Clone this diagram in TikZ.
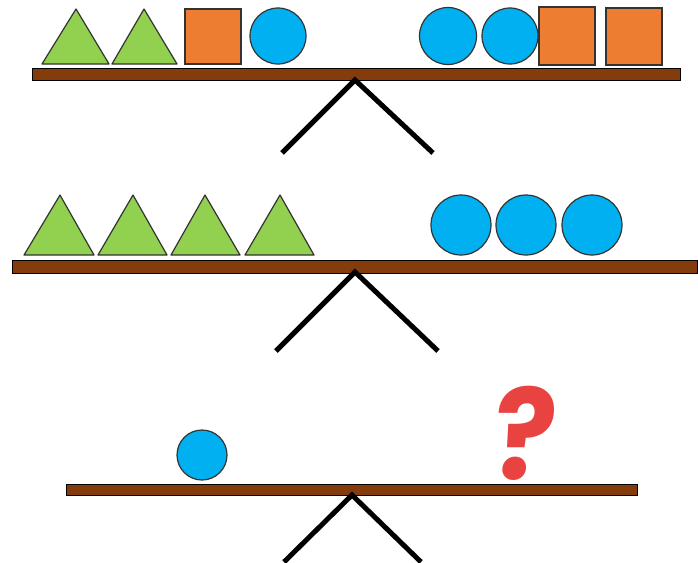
\documentclass[tikz,border=0pt]{standalone}
\usepackage{fontspec}
\newfontfamily\qfont{Poppins}
\definecolor{grn}{HTML}{92D050}
\definecolor{org}{HTML}{ED7D31}
\definecolor{blu}{HTML}{00B0F0}
\definecolor{brn}{HTML}{843C0C}
\definecolor{qred}{HTML}{E84340}
\definecolor{edge}{HTML}{333333}

\begin{document}
\begin{tikzpicture}[x=1pt,y=-1pt,
  tri/.style={fill=grn,draw=edge,line width=1.2pt,line join=round},
  sq/.style={fill=org,draw=edge,line width=1.2pt},
  ball/.style={fill=blu,draw=edge,line width=1.2pt},
  plank/.style={fill=brn,draw=black,line width=1pt},
  leg/.style={line width=5pt,line join=miter}]
\useasboundingbox (0,0) rectangle (698,562);

% top seesaw
\draw [plank](32,68) rectangle (680,80);
\draw [leg](282,153) -- (355,80) -- (433,153);
\draw [tri](42,64) -- (76,9) -- (109,64) -- cycle;
\draw [tri](112,64) -- (144,9) -- (177,64) -- cycle;
\draw [sq](185,9) rectangle (241,64);
\draw [ball](278,36) circle (28);
\draw [ball](448,36) circle (28.5);
\draw [ball](510,36) circle (28);
\draw [sq](539,7) rectangle (595,65);
\draw [sq](606,8) rectangle (662,65);

% middle seesaw
\draw [plank](12,260) rectangle (697,273);
\draw [leg](276,351) -- (355,272) -- (438,351);
\draw [tri](24,255) -- (60,195) -- (94,255) -- cycle;
\draw [tri](98,255) -- (133,195) -- (167,255) -- cycle;
\draw [tri](171,255) -- (205,195) -- (240,255) -- cycle;
\draw [tri](245,255) -- (280,195) -- (314,255) -- cycle;
\draw [ball](461,225) circle (30);
\draw [ball](526,225) circle (30);
\draw [ball](592,225) circle (30);

% bottom seesaw
\draw [plank](66,484) rectangle (637,495);
\draw [leg](284,562) -- (352,495) -- (421,562);
\draw [ball](202,455) circle (25);
\node [text=qred,font=\qfont\bfseries\fontsize{120}{120}\selectfont,inner sep=0pt,
  xslant=0.08,yscale=1.05,xscale=0.97] (qmark) at (525,433) {?};
\end{tikzpicture}
\end{document}
